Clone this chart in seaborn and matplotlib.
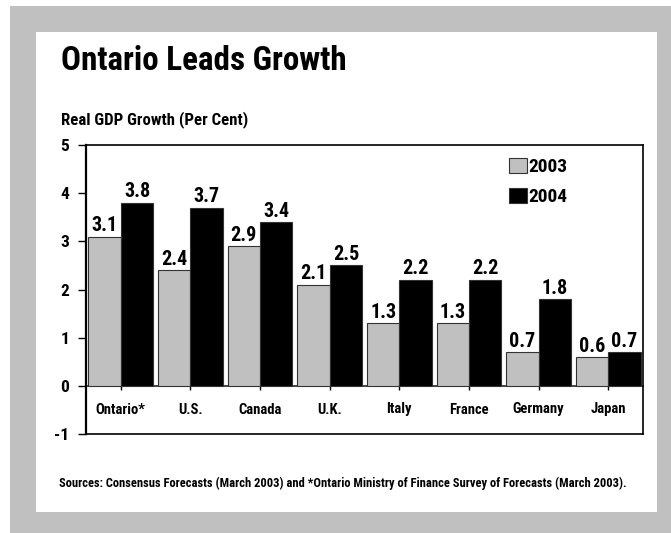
import matplotlib
matplotlib.use('Agg')
import matplotlib.pyplot as plt
import seaborn as sns
import pandas as pd
from matplotlib import font_manager as fm
from matplotlib.patches import Rectangle

# values
countries = ['Ontario*', 'U.S.', 'Canada', 'U.K.', 'Italy', 'France', 'Germany', 'Japan']
growth_2003 = [3.1, 2.4, 2.9, 2.1, 1.3, 1.3, 0.7, 0.6]
growth_2004 = [3.8, 3.7, 3.4, 2.5, 2.2, 2.2, 1.8, 0.7]
years = ['2003', '2004']

df = pd.DataFrame({
    'country': countries * 2,
    'growth': growth_2003 + growth_2004,
    'year': [years[0]] * len(countries) + [years[1]] * len(countries),
})

# pick a narrow bold face if one is installed
names = {f.name for f in fm.fontManager.ttflist}
family = next((n for n in ['Liberation Sans Narrow', 'Roboto Condensed', 'Open Sans Condensed',
                           'Arial Narrow', 'Nimbus Sans Narrow'] if n in names), None)
stretch = 'normal'
if family is None:
    family = 'DejaVu Sans'
    if any(f.name == 'DejaVu Sans' and f.stretch in ('condensed', 'semi-condensed')
           for f in fm.fontManager.ttflist):
        stretch = 'condensed'

sns.set_style('white')
plt.rcParams['font.family'] = [family, 'DejaVu Sans']
plt.rcParams['font.stretch'] = stretch
plt.rcParams['font.weight'] = 'bold'
plt.rcParams['text.color'] = 'black'
plt.rcParams['xtick.color'] = 'black'
plt.rcParams['ytick.color'] = 'black'

W, H = 671, 533
fig = plt.figure(figsize=(W / 100, H / 100), dpi=100)
fig.patch.set_facecolor('white')

# grey frame and white panel behind everything
fig.patches.append(Rectangle((10 / W, 0), (W - 10) / W, (H - 6) / H, transform=fig.transFigure,
                             facecolor='#c0c0c0', edgecolor='none', zorder=-10))
fig.patches.append(Rectangle((36 / W, 21 / H), 621 / W, 480 / H, transform=fig.transFigure,
                             facecolor='white', edgecolor='none', zorder=-9))

ax = fig.add_axes([86 / W, 1 - 434 / H, (643 - 86) / W, (434 - 145) / H])
ax.set_facecolor('white')

sns.barplot(data=df, x='country', y='growth', hue='year', order=countries, hue_order=years,
            palette={'2003': '#c0c0c0', '2004': 'black'}, width=0.93, saturation=1,
            edgecolor='#333333', linewidth=0.8, ax=ax)

for cont in ax.containers:
    ax.bar_label(cont, fmt='%.1f', padding=1, fontsize=14.5, fontweight='bold')

ax.set_ylim(-1, 5)
ax.set_xlim(-0.5, len(countries) - 0.5)
ax.set_yticks(range(-1, 6))
ax.set_yticklabels([str(v) for v in range(-1, 6)], fontsize=12.5, fontweight='bold')
ax.tick_params(axis='y', direction='out', length=6, width=1, pad=6, left=True)
ax.set_xticks([])
ax.set_xlabel('')
ax.set_ylabel('')
for s in ax.spines.values():
    s.set_color('black')
    s.set_linewidth(1.2)
ax.spines['left'].set_linewidth(1.6)

# category axis sits on the zero line
sec = ax.secondary_xaxis(1 / 6)
sec.spines['bottom'].set_linewidth(1.2)
sec.set_xticks(range(len(countries)))
sec.set_xticklabels(countries, fontsize=10.5, fontweight='bold')
sec.tick_params(axis='x', direction='out', length=3, width=1, pad=9)

leg = ax.legend(loc='upper left', bbox_to_anchor=((509 - 86) / 557, (434 - 158) / 289), frameon=False,
                fontsize=14, handlelength=0.9, handleheight=0.8, handletextpad=0.12,
                labelspacing=0.6, borderaxespad=0, borderpad=0)
for t in leg.get_texts():
    t.set_fontweight('bold')

title = fig.text(61 / W, 1 - 70 / H, 'Ontario Leads Growth', fontsize=23, fontweight='bold', va='baseline')
sub = fig.text(61 / W, 1 - 124 / H, 'Real GDP Growth (Per Cent)', fontsize=10, fontweight='bold', va='baseline')
src = fig.text(59 / W, 1 - 483 / H,
               'Sources: Consensus Forecasts (March 2003) and *Ontario Ministry of Finance Survey of Forecasts (March 2003).',
               fontsize=8, fontweight='bold', va='center')

# size the free texts so they span the same width as in the reference
renderer = fig.canvas.get_renderer()
for txt, target in [(title, 287), (sub, 185), (src, 567)]:
    w = txt.get_window_extent(renderer).width
    txt.set_fontsize(txt.get_fontsize() * target / w)

fig.savefig('out.png', dpi=100)
